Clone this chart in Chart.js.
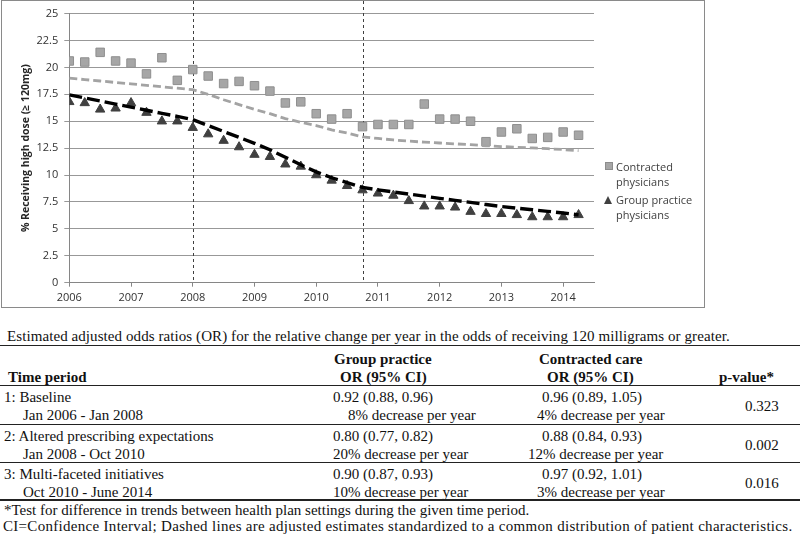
<!DOCTYPE html>
<html>
<head>
<meta charset="utf-8">
<script src="https://cdn.jsdelivr.net/npm/chart.js@4"></script>
<style>
  body { margin: 0; width: 800px; height: 534px; position: relative; overflow: hidden; background: #fff;
         font-family: "Liberation Serif", "Times New Roman", serif; font-size: 15px; color: #111; }
  #box { position: absolute; left: 1px; top: 0; width: 702px; height: 306px; border: 1px solid #8a8a8a; }
  #wrap { position: relative; width: 702px; height: 306px; }
  .t { position: absolute; white-space: nowrap; line-height: 18px; height: 18px; }
  .b { font-weight: bold; }
  .rule { position: absolute; left: 0; width: 800px; background: #222; }
  .leg { position: absolute; font-family: "Open Sans", sans-serif; font-size: 11px; color: #404040; line-height: 15px; white-space: nowrap; }
  .sq { position: absolute; width: 6px; height: 6px; background: #a6a6a6; border: 1px solid #8c8c8c; }
  .tri { position: absolute; width: 0; height: 0; border-left: 4.5px solid transparent; border-right: 4.5px solid transparent; border-bottom: 8px solid #404040; }
</style>
</head>
<body>
<div id="box"><div id="wrap"><canvas id="trendChart"></canvas></div></div>

<div class="sq" style="left:605px; top:162px;"></div>
<div class="leg" style="left:616px; top:159px;">Contracted<br>physicians</div>
<div class="tri" style="left:604px; top:196px;"></div>
<div class="leg" style="left:616px; top:192px;">Group practice<br>physicians</div>

<div id="table"></div>

<script>
// quarterly time points
const quarters = [2006, 2006.25, 2006.5, 2006.75, 2007, 2007.25, 2007.5, 2007.75,
  2008, 2008.25, 2008.5, 2008.75, 2009, 2009.25, 2009.5, 2009.75,
  2010, 2010.25, 2010.5, 2010.75, 2011, 2011.25, 2011.5, 2011.75,
  2012, 2012.25, 2012.5, 2012.75, 2013, 2013.25, 2013.5, 2013.75,
  2014, 2014.25];

const contracted = [20.6, 20.5, 21.4, 20.6, 20.4, 19.4, 20.9, 18.8,
  19.8, 19.2, 18.5, 18.7, 18.3, 17.8, 16.7, 16.8,
  15.7, 15.2, 15.7, 14.5, 14.7, 14.7, 14.7, 16.6,
  15.2, 15.2, 15.0, 13.1, 14.0, 14.3, 13.4, 13.5,
  14.0, 13.7];

const groupPractice = [16.8, 16.7, 16.1, 16.2, 16.7, 15.8, 15.0, 15.0,
  14.4, 13.8, 13.2, 12.6, 11.9, 11.7, 11.0, 10.8,
  10.0, 9.5, 9.0, 8.6, 8.3, 8.1, 7.6, 7.1,
  7.1, 7.0, 6.6, 6.4, 6.4, 6.3, 6.1, 6.1,
  6.1, 6.3];

// adjusted estimates (dashed lines)
const contractedAdj = [19.0, 18.87, 18.74, 18.6, 18.47, 18.34, 18.2, 18.07,
  17.93, 17.5, 17.0, 16.55, 16.1, 15.7, 15.25, 14.9,
  14.6, 14.2, 13.9, 13.55, 13.4, 13.26, 13.15, 13.06,
  12.98, 12.9, 12.82, 12.72, 12.65, 12.58, 12.52, 12.45,
  12.37, 12.27];

const groupAdj = [17.45, 17.16, 16.88, 16.59, 16.31, 16.02, 15.73, 15.45,
  15.15, 14.6, 14.05, 13.5, 12.95, 12.35, 11.65, 10.95,
  10.3, 9.75, 9.3, 8.85, 8.63, 8.43, 8.23, 8.04,
  7.84, 7.65, 7.46, 7.26, 7.08, 6.93, 6.78, 6.63,
  6.48, 6.3];

const yearTicks = [2006, 2007, 2008, 2009, 2010, 2011, 2012, 2013, 2014];
const periodBreaks = [2008, 2010.75];

const pts = (vals) => vals.map((v, i) => ({ x: quarters[i], y: v }));

const periodLines = {
  id: "periodLines",
  beforeDatasetsDraw(chart) {
    const { ctx, chartArea, scales: { x } } = chart;
    ctx.save();
    ctx.strokeStyle = "#404040";
    ctx.lineWidth = 1;
    ctx.setLineDash([3, 3]);
    periodBreaks.forEach((v) => {
      const px = Math.round(x.getPixelForValue(v)) + 0.5;
      ctx.beginPath();
      ctx.moveTo(px, 0);
      ctx.lineTo(px, chartArea.bottom);
      ctx.stroke();
    });
    ctx.restore();
  },
};

const tickFont = { family: "'Open Sans', sans-serif", size: 11 };

new Chart(document.getElementById("trendChart").getContext("2d"), {
  type: "scatter",
  data: {
    datasets: [
      {
        label: "Contracted adjusted",
        data: pts(contractedAdj),
        showLine: true,
        borderColor: "#a3a3a3",
        borderWidth: 2.8,
        borderDash: [8, 4],
        pointRadius: 0,
        order: 0,
      },
      {
        label: "Group practice adjusted",
        data: pts(groupAdj),
        showLine: true,
        borderColor: "#000",
        borderWidth: 3.4,
        borderDash: [13, 5],
        pointRadius: 0,
        order: 0,
      },
      {
        label: "Contracted physicians",
        data: pts(contracted),
        pointStyle: "rect",
        pointRadius: 6,
        backgroundColor: "#a6a6a6",
        borderColor: "#8f8f8f",
        borderWidth: 1,
        order: 1,
      },
      {
        label: "Group practice physicians",
        data: pts(groupPractice),
        pointStyle: "triangle",
        pointRadius: 5.4,
        backgroundColor: "#404040",
        borderColor: "#404040",
        borderWidth: 1,
        order: 1,
      },
    ],
  },
  options: {
    responsive: true,
    maintainAspectRatio: false,
    animation: false,
    layout: { padding: { top: 7, right: 110, left: 0, bottom: 0 } },
    plugins: { legend: { display: false }, tooltip: { enabled: false } },
    scales: {
      x: {
        type: "linear",
        min: 2006,
        max: 2014.5,
        afterFit: (s) => { s.height = 24.3; },
        afterBuildTicks: (s) => { s.ticks = yearTicks.map((v) => ({ value: v })); },
        ticks: { callback: (v) => String(v), color: "#333", font: tickFont, padding: 5, maxRotation: 0 },
        grid: { drawOnChartArea: false, tickLength: 4, color: "#868686" },
        border: { color: "#868686" },
      },
      y: {
        min: 0,
        max: 25,
        afterFit: (s) => { s.width = 67.3; },
        ticks: { stepSize: 2.5, callback: (v) => String(v), color: "#333", font: tickFont, padding: 6 },
        grid: { color: "#989898", tickLength: 5 },
        border: { color: "#868686" },
        title: {
          display: true,
          text: "% Receiving high dose (\u2265 120mg)",
          color: "#262626",
          font: { family: "'Open Sans', sans-serif", size: 10.5, weight: "bold" },
          padding: { top: 17.5, bottom: 0 },
        },
      },
    },
  },
  plugins: [periodLines],
});

// table below the chart
const caption = "Estimated adjusted odds ratios (OR) for the relative change per year in the odds of receiving 120 milligrams or greater.";
const periods = ["1: Baseline", "2: Altered prescribing expectations", "3: Multi-faceted initiatives"];
const periodDates = ["Jan 2006 - Jan 2008", "Jan 2008 - Oct 2010", "Oct 2010 - June 2014"];
const groupOR = ["0.92 (0.88, 0.96)", "0.80 (0.77, 0.82)", "0.90 (0.87, 0.93)"];
const groupChange = ["8% decrease per year", "20% decrease per year", "10% decrease per year"];
const contractedOR = ["0.96 (0.89, 1.05)", "0.88 (0.84, 0.93)", "0.97 (0.92, 1.01)"];
const contractedChange = ["4% decrease per year", "12% decrease per year", "3% decrease per year"];
const pValues = ["0.323", "0.002", "0.016"];
const footnotes = [
  "*Test for difference in trends between health plan settings during the given time period.",
  "CI=Confidence Interval; Dashed lines are adjusted estimates standardized to a common distribution of patient characteristics.",
];

const tbl = document.getElementById("table");
function txt(s, left, cy, bold, spacing) {
  const d = document.createElement("div");
  d.className = "t" + (bold ? " b" : "");
  d.style.left = left + "px";
  d.style.top = (cy - 9) + "px";
  if (spacing) d.style.letterSpacing = spacing + "px";
  d.textContent = s;
  tbl.appendChild(d);
}
function rule(top, h) {
  const d = document.createElement("div");
  d.className = "rule";
  d.style.top = top + "px";
  d.style.height = h + "px";
  tbl.appendChild(d);
}

txt(caption, 7, 336, false, 0.08);
rule(344.5, 1.5);
txt("Group practice", 334, 359, true);
txt("Contracted care", 539, 359, true);
txt("Time period", 8, 377, true);
txt("OR (95% CI)", 340, 377, true);
txt("OR (95% CI)", 547, 377, true);
txt("p-value*", 719, 377, true);
rule(384.5, 1.2);

const rowTop = [397, 436, 473.5];
const changeLeft = [348, 333, 333];
const contrChangeLeft = [537, 528, 537];
rowTop.forEach((cy, i) => {
  txt(periods[i], 4, cy);
  txt(periodDates[i], 23, cy + 18);
  txt(groupOR[i], 333, cy);
  txt(groupChange[i], changeLeft[i], cy + 18);
  txt(contractedOR[i], 542, cy);
  txt(contractedChange[i], contrChangeLeft[i], cy + 18);
  txt(pValues[i], 745, cy + 9);
});
rule(423.5, 1);
rule(461.5, 1);
rule(499, 1.5);
txt(footnotes[0], 4, 509.5);
txt(footnotes[1], 3, 525.5, false, 0.3);
</script>
</body>
</html>
